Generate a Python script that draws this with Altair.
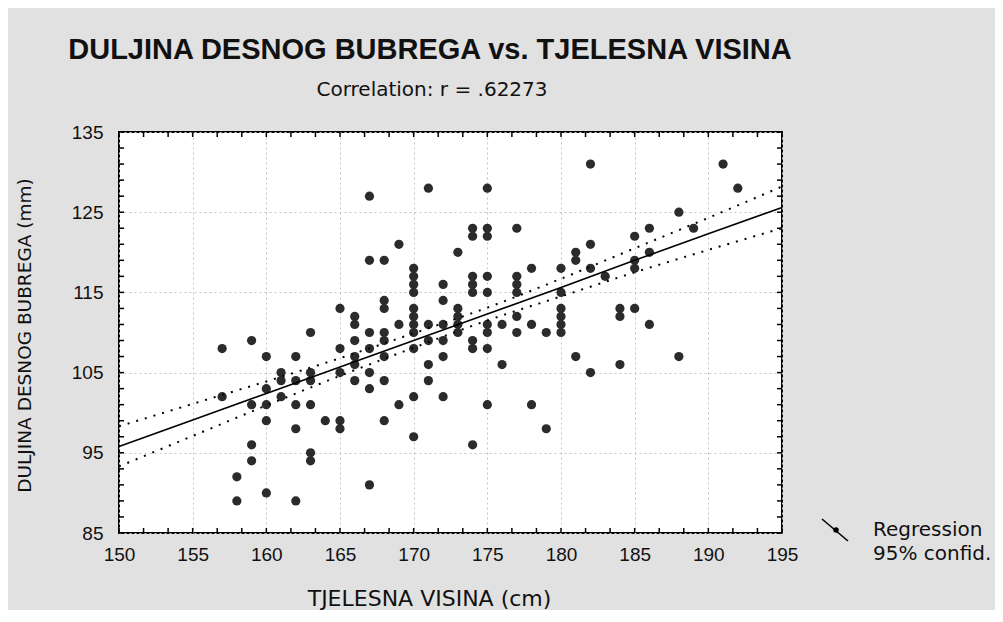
import altair as alt
import pandas as pd

# ---- data ----
height_cm = (
    [157] * 2 + [158] * 2 + [159] * 4 + [160] * 5 + [161] * 3 + [162] * 5 +
    [163] * 6 + [164] * 1 + [165] * 5 + [166] * 6 + [167] * 7 + [168] * 8 +
    [169] * 3 + [170] * 11 + [171] * 5 + [172] * 6 + [173] * 5 + [174] * 8 +
    [175] * 9 + [176] * 2 + [177] * 6 + [178] * 3 + [179] * 2 + [180] * 6 +
    [181] * 3 + [182] * 4 + [183] * 1 + [184] * 3 + [185] * 4 + [186] * 3 +
    [188] * 2 + [189] * 1 + [191] * 1 + [192] * 1
)
kidney_mm = [
    108, 102,
    92, 89,
    109, 101, 96, 94,
    107, 103, 101, 99, 90,
    105, 104, 102,
    107, 104, 101, 98, 89,
    110, 105, 104, 101, 95, 94,
    99,
    113, 108, 105, 99, 98,
    112, 111, 109, 107, 106, 104,
    127, 119, 110, 108, 105, 103, 91,
    119, 114, 113, 110, 109, 107, 104, 99,
    121, 111, 101,
    118, 117, 116, 115, 113, 112, 111, 110, 108, 102, 97,
    128, 111, 109, 106, 104,
    116, 114, 111, 109, 107, 102,
    120, 113, 112, 111, 110,
    123, 122, 117, 116, 115, 109, 108, 96,
    128, 123, 122, 117, 115, 111, 110, 108, 101,
    111, 106,
    123, 117, 116, 115, 112, 110,
    118, 111, 101,
    110, 98,
    118, 115, 113, 112, 111, 110,
    120, 119, 107,
    131, 121, 118, 105,
    117,
    113, 112, 106,
    122, 119, 118, 113,
    123, 120, 111,
    125, 107,
    123,
    131,
    128,
]

fit_x = [150, 155, 160, 165, 170, 175, 180, 185, 190, 195]
fit_y = [95.8, 99.1, 102.4, 105.7, 109.0, 112.3, 115.6, 119.0, 122.3, 125.6]
ci_upper = [98.3, 101.1, 103.9, 106.8, 109.9, 113.1, 116.7, 120.5, 124.3, 128.2]
ci_lower = [93.3, 97.1, 100.9, 104.6, 108.1, 111.5, 114.5, 117.5, 120.3, 123.0]

x_labels = [150, 155, 160, 165, 170, 175, 180, 185, 190, 195]
y_labels = [85, 95, 105, 115, 125, 135]
x_minor = [round(150 + i * 5 / 3, 4) for i in range(28)]
y_minor = list(range(85, 136, 2))

title_text = "DULJINA DESNOG BUBREGA vs. TJELESNA VISINA"
subtitle_text = "Correlation: r = .62273"
x_title = "TJELESNA VISINA (cm)"
y_title = "DULJINA DESNOG BUBREGA (mm)"
legend_labels = ["Regression", "95% confid."]

W, H = 663, 401
SANS = "Liberation Sans, Arial, sans-serif"
WIDE = "DejaVu Sans, Verdana, sans-serif"

xs = alt.Scale(domain=[150, 195], nice=False, zero=False)
ys = alt.Scale(domain=[85, 135], nice=False, zero=False)

x_axis = alt.Axis(values=x_labels, title=x_title, titleX=310, titleY=72,
                  titleAlign="center", titleBaseline="alphabetic", labelFlush=False)
y_axis = alt.Axis(values=y_labels, title=y_title, titleX=-89, titleY=203,
                  titleAngle=270, titleAlign="center", titleBaseline="alphabetic",
                  titleFontSize=18.5, labelFlush=False)


def X(f):
    return alt.X(f, scale=xs, axis=x_axis, title=x_title)


def Y(f):
    return alt.Y(f, scale=ys, axis=y_axis, title=y_title)


pts_df = pd.DataFrame({"visina": height_cm, "bubreg": kidney_mm})
fit_df = pd.DataFrame({"x": fit_x, "fit": fit_y, "upper": ci_upper, "lower": ci_lower})

points = alt.Chart(pts_df).mark_circle(size=85, color="#2b2b2b", opacity=1).encode(
    x=X("visina:Q"), y=Y("bubreg:Q"))

xt = alt.Chart(pd.DataFrame({"t": x_minor}))
tick_xb = xt.mark_rule(color="black", strokeWidth=1.5).encode(
    x=X("t:Q"), y=alt.value(H), y2=alt.value(H - 5))
tick_xt = xt.mark_rule(color="black", strokeWidth=1.5).encode(
    x=X("t:Q"), y=alt.value(0), y2=alt.value(5))
yt = alt.Chart(pd.DataFrame({"t": y_minor}))
tick_yl = yt.mark_rule(color="black", strokeWidth=1.5).encode(
    y=Y("t:Q"), x=alt.value(0), x2=alt.value(5))
tick_yr = yt.mark_rule(color="black", strokeWidth=1.5).encode(
    y=Y("t:Q"), x=alt.value(W), x2=alt.value(W - 5))

base_fit = alt.Chart(fit_df)
upper = base_fit.mark_line(color="black", strokeWidth=2, strokeDash=[2, 7],
                           interpolate="monotone").encode(x=X("x:Q"), y=Y("upper:Q"))
lower = base_fit.mark_line(color="black", strokeWidth=2, strokeDash=[2, 7],
                           interpolate="monotone").encode(x=X("x:Q"), y=Y("lower:Q"))
fit = base_fit.mark_line(color="black", strokeWidth=1.6).encode(x=X("x:Q"), y=Y("fit:Q"))

one = pd.DataFrame({"a": [0]})
leg_line = alt.Chart(one).mark_rule(color="black", strokeWidth=1.6).encode(
    x=alt.value(703), x2=alt.value(729), y=alt.value(387), y2=alt.value(409))
leg_dot = alt.Chart(one).mark_circle(size=30, color="black", opacity=1).encode(
    x=alt.value(717), y=alt.value(398))
leg_t1 = alt.Chart(pd.DataFrame({"t": [legend_labels[0]]})).mark_text(
    align="left", baseline="alphabetic", font=WIDE, fontSize=20, color="#111").encode(
    text="t:N", x=alt.value(754), y=alt.value(404))
leg_t2 = alt.Chart(pd.DataFrame({"t": [legend_labels[1]]})).mark_text(
    align="left", baseline="alphabetic", font=WIDE, fontSize=20, color="#111").encode(
    text="t:N", x=alt.value(754), y=alt.value(428))

title_m = alt.Chart(pd.DataFrame({"t": [title_text]})).mark_text(
    align="center", baseline="alphabetic", font=SANS, fontSize=29,
    fontWeight="bold", color="#111").encode(
    text="t:N", x=alt.value(311), y=alt.value(-73))
subtitle_m = alt.Chart(pd.DataFrame({"t": [subtitle_text]})).mark_text(
    align="center", baseline="alphabetic", font=WIDE, fontSize=20, color="#111").encode(
    text="t:N", x=alt.value(313), y=alt.value(-36))

chart = alt.layer(
    points, tick_xb, tick_xt, tick_yl, tick_yr,
    upper, lower, fit,
    leg_line, leg_dot, leg_t1, leg_t2, title_m, subtitle_m,
).properties(
    width=W, height=H,
    autosize=alt.AutoSizeParams(type="none"),
    padding={"left": 111, "top": 124, "right": 213, "bottom": 77},
    background="#e1e1e1",
).configure_view(
    stroke="black", strokeWidth=2, fill="white"
).configure_axis(
    grid=True, gridColor="#c4c4c4", gridDash=[2, 3], gridWidth=1,
    domain=False, ticks=False,
    labelFont=SANS, labelFontSize=19, labelColor="#111",
    titleFont=WIDE, titleFontSize=22, titleFontWeight="normal", titleColor="#111",
).configure_axisX(
    labelPadding=12,
).configure_axisY(
    labelPadding=16,
)

chart.save("out.html", embed_options={"renderer": "svg", "actions": False})
